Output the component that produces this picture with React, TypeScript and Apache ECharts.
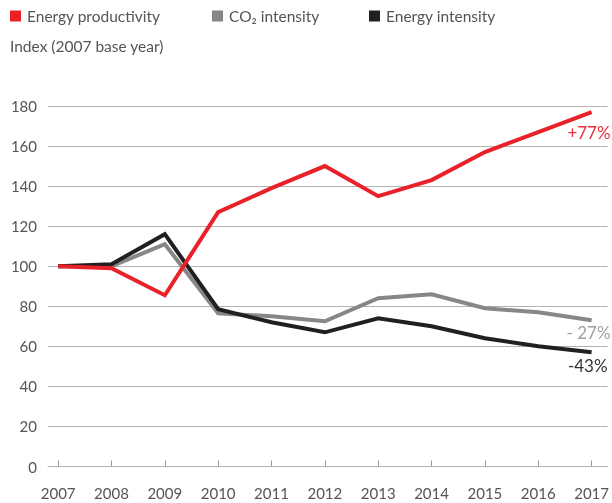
import React, { useEffect, useRef } from "react";
import * as echarts from "echarts";

const years = [2007, 2008, 2009, 2010, 2011, 2012, 2013, 2014, 2015, 2016, 2017];
const energyProductivity = [100, 99, 85.5, 127, 139, 150, 135, 143, 157, 167, 177];
const co2Intensity = [100, 100, 111, 76.5, 75, 72.5, 84, 86, 79, 77, 73];
const energyIntensity = [100, 101, 116, 78.5, 72, 67, 74, 70, 64, 60, 57];
const yTicks = [0, 20, 40, 60, 80, 100, 120, 140, 160, 180];
const seriesNames = ["Energy productivity", "CO₂ intensity", "Energy intensity"];
const endLabels = ["+77%", "- 27%", "-43%"];

const FONT = "Lato";
const TEXT = "#555555";
const COLORS = ["#e8212b", "#878787", "#231f20"];

export default function App() {
  const ref = useRef<HTMLDivElement>(null);
  useEffect(() => {
    if (!ref.current) return;
    const chart = echarts.init(ref.current, undefined, { renderer: "svg" });
    const pairs = (arr: number[]) => years.map((y, i) => [y, arr[i]]);
    const allData = [energyProductivity, co2Intensity, energyIntensity];
    const labelOffsets = [
      [19, 12],
      [19, 4],
      [16, 5],
    ];
    const labelColors = ["#e8303a", "#a0a0a0", "#333333"];
    const legendLefts = [10, 212, 369];
    chart.setOption({
      animation: false,
      textStyle: { fontFamily: FONT },
      legend: seriesNames.map((n, i) => ({
        data: [n],
        left: legendLefts[i],
        top: 8,
        icon: "rect",
        itemWidth: 11,
        itemHeight: 11,
        itemGap: 0,
        padding: 0,
        selectedMode: false,
        textStyle: { color: TEXT, fontSize: 15.5, fontFamily: FONT, padding: [0, 0, 0, 1] },
      })),
      graphic: [
        {
          type: "text",
          left: 10,
          top: 38,
          style: { text: "Index (2007 base year)", fill: TEXT, fontSize: 15.5, fontFamily: FONT },
        },
      ],
      grid: { left: 48, right: 4, top: 106, bottom: 36.5 },
      xAxis: {
        type: "value",
        min: 2006.81,
        max: 2017.3,
        axisLine: { show: true, lineStyle: { color: "#b3b3b3", width: 1 } },
        axisTick: {
          show: true,
          inside: true,
          length: 6,
          lineStyle: { color: "#9a9a9a" },
          customValues: years,
        },
        axisLabel: {
          customValues: years,
          formatter: (v: number) => String(v),
          color: TEXT,
          fontSize: 15,
          fontFamily: FONT,
          margin: 19,
        },
        splitLine: { show: false },
      },
      yAxis: {
        type: "value",
        min: 0,
        max: 180,
        interval: 20,
        axisLine: { show: false },
        axisTick: { show: false },
        axisLabel: {
          customValues: yTicks,
          color: TEXT,
          fontSize: 15,
          fontFamily: FONT,
          margin: 11,
        },
        splitLine: { show: true, lineStyle: { color: "#b3b3b3", width: 1 } },
      },
      series: seriesNames.map((n, i) => ({
        name: n,
        type: "line",
        data: pairs(allData[i]),
        showSymbol: false,
        symbol: "none",
        color: COLORS[i],
        lineStyle: { color: COLORS[i], width: 4, join: "miter" },
        z: i === 1 ? 1 : i === 0 ? 3 : 2,
        endLabel: {
          show: true,
          formatter: endLabels[i],
          color: labelColors[i],
          fontSize: 17,
          fontFamily: FONT,
          align: "right",
          verticalAlign: "top",
          distance: 0,
          offset: labelOffsets[i],
        },
      })),
    });
    return () => chart.dispose();
  }, []);
  return (
    <div
      ref={ref}
      style={{ position: "fixed", left: 0, top: 0, width: 612, height: 503 }}
    />
  );
}
